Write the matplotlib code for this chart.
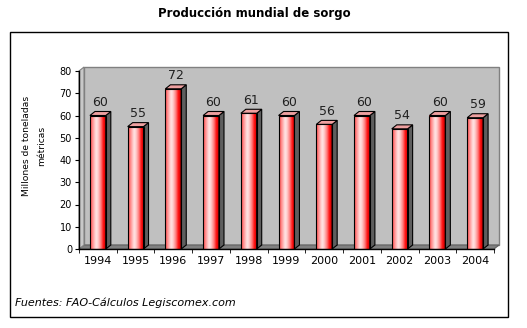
import numpy as np
import matplotlib.pyplot as plt
from matplotlib.colors import LinearSegmentedColormap
from matplotlib.patches import Polygon, Rectangle

# Producción mundial de sorgo, millones de toneladas
years = ['1994', '1995', '1996', '1997', '1998', '1999',
         '2000', '2001', '2002', '2003', '2004']
produccion = [60, 55, 72, 60, 61, 60, 56, 60, 54, 60, 59]

W, H = 527, 328
fig = plt.figure(figsize=(W / 100, H / 100), dpi=100)
fig.patch.set_facecolor('white')

# outer frame
fig.add_artist(Rectangle((9.5 / W, 1 - 317 / H), 498.5 / W, 285 / H,
                         transform=fig.transFigure, fill=False,
                         edgecolor='black', lw=1))

fig.text(254 / W, 1 - 14 / H, 'Producción mundial de sorgo',
         ha='center', va='center', fontsize=8.5, fontweight='bold')
fig.text(15 / W, 1 - 303 / H, 'Fuentes: FAO-Cálculos Legiscomex.com',
         ha='left', va='center', fontsize=8, style='italic')

ax = fig.add_axes([79 / W, 79 / H, 415 / W, 178 / H])
ax.set_facecolor('none')

x = np.arange(len(years))
x0, x1 = -0.5, len(years) - 0.5
ymax = 80
dx, dy = 0.133, 1.8   # depth of the 3D box in data units
w = 0.42

# back wall, floor and side wall
ax.add_patch(Rectangle((x0 + dx, dy), x1 - x0, ymax, facecolor='#c0c0c0',
                       edgecolor='#808080', lw=1, zorder=0, clip_on=False))
ax.add_patch(Polygon([(x0, 0), (x1, 0), (x1 + dx, dy), (x0 + dx, dy)],
                     facecolor='#808080', edgecolor='#606060', lw=0.8,
                     zorder=0.5, clip_on=False))
ax.add_patch(Polygon([(x0, 0), (x0, ymax), (x0 + dx, ymax + dy), (x0 + dx, dy)],
                     facecolor='#c8c8c8', edgecolor='#808080', lw=0.8,
                     zorder=0.5, clip_on=False))

bar_cmap = LinearSegmentedColormap.from_list('cyl', [
    (0.0, '#ff3a3a'), (0.15, '#ff8c8c'), (0.38, '#ffe4e4'),
    (0.5, '#ffd0d0'), (0.68, '#ff8080'), (0.85, '#ff1010'),
    (1.0, '#c80000')])
grad = np.linspace(0, 1, 64).reshape(1, -1)

for xi, v in zip(x, produccion):
    left, right = xi - w / 2, xi + w / 2
    ax.imshow(grad, extent=[left, right, 0, v], aspect='auto',
              cmap=bar_cmap, zorder=2, interpolation='bilinear')
    ax.add_patch(Polygon([(right, 0), (right + dx, dy), (right + dx, v + dy), (right, v)],
                         facecolor='#5e5e5e', edgecolor='black', lw=0.8, zorder=2))
    ax.add_patch(Polygon([(left, v), (right, v), (right + dx, v + dy), (left + dx, v + dy)],
                         facecolor='#eea0a0', edgecolor='black', lw=0.8, zorder=2.5))
    ax.add_patch(Rectangle((left, 0), w, v, fill=False, edgecolor='black',
                           lw=0.8, zorder=3))
    ax.annotate(str(v), (xi + dx / 2, v), xytext=(0, 9.5), textcoords='offset points',
                ha='center', va='center', fontsize=9, color='#202020', zorder=4)

ax.set_xlim(x0, x1)
ax.set_ylim(0, ymax)
ax.set_yticks(range(0, 81, 10))
ax.set_xticks(x)
ax.set_xticklabels(years)
ax.set_xticks(np.arange(x0, x1 + 0.01, 1), minor=True)
ax.tick_params(axis='x', which='major', length=0, labelsize=8, pad=5)
ax.tick_params(axis='x', which='minor', length=3, direction='out')
ax.tick_params(axis='y', length=3, direction='out', labelsize=7, pad=2)
for s in ['top', 'right']:
    ax.spines[s].set_visible(False)
for s in ['left', 'bottom']:
    ax.spines[s].set_color('black')
    ax.spines[s].set_linewidth(1)
    ax.spines[s].set_zorder(5)

fig.text(34 / W, 1 - 146 / H, 'Millones de toneladas\nmétricas', rotation=90,
         ha='center', va='center', multialignment='center', fontsize=6.6,
         linespacing=1.9)

fig.savefig('out.png', dpi=100)
